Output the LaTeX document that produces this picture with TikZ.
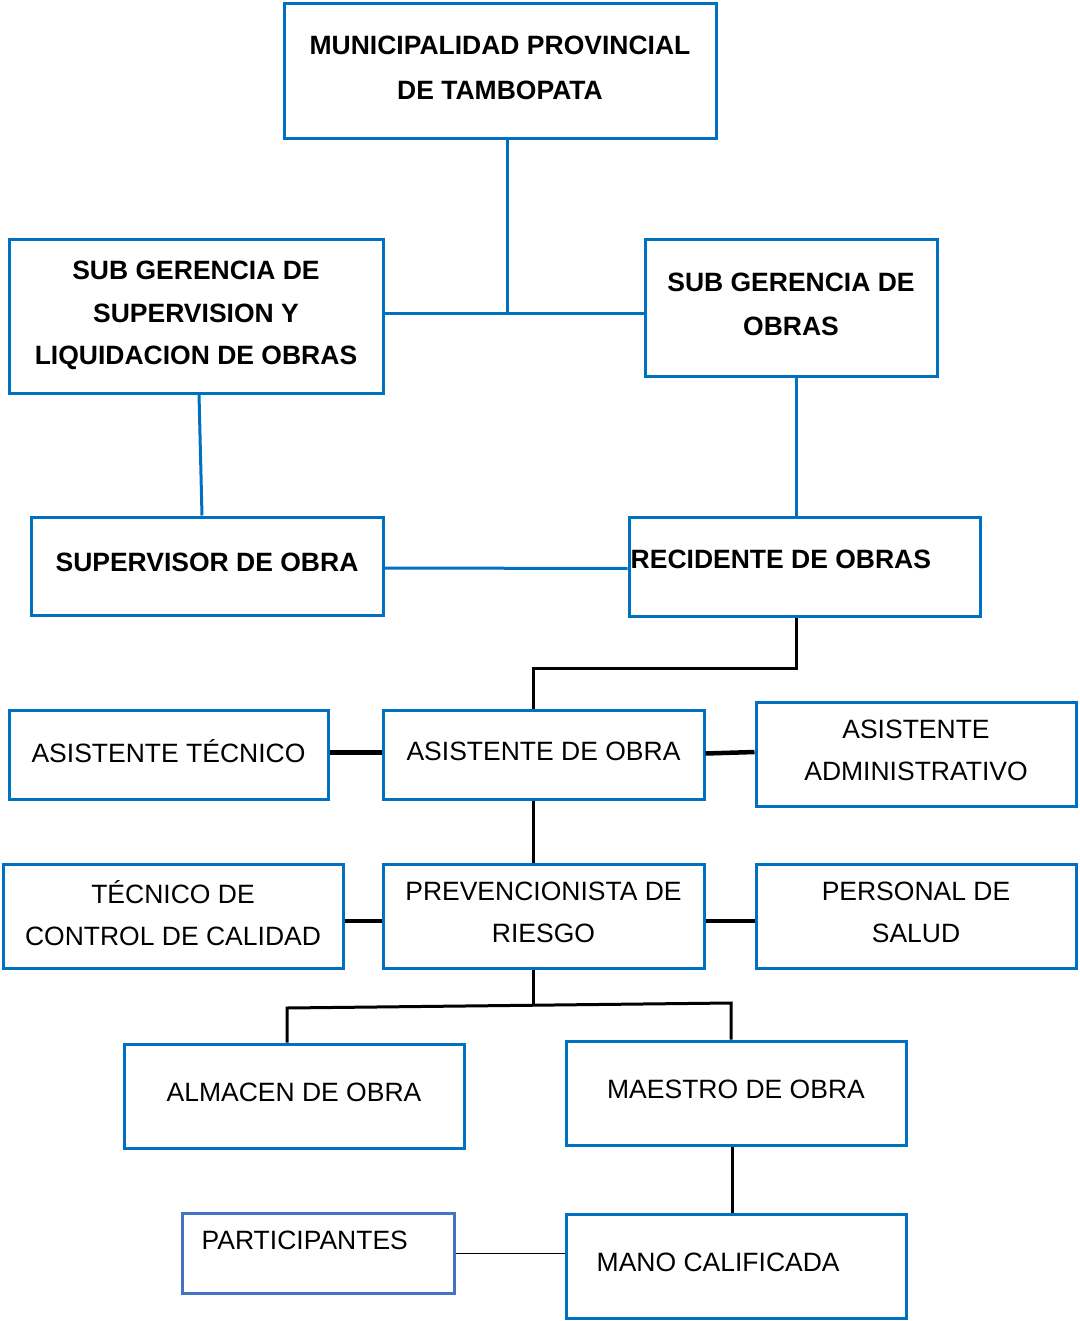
\documentclass[tikz,border=0pt]{standalone}
\usepackage{fontspec}
\setmainfont{Liberation Sans}
\definecolor{orgblue}{HTML}{0070C0}
\definecolor{partblue}{HTML}{4472C4}

\begin{document}
\begin{tikzpicture}[x=1pt, y=-1pt,
        box/.style={draw=orgblue, line width=3pt, inner sep=0pt, align=center, text depth=7pt,
            font=\fontsize{26.5}{42}\selectfont},
        bl/.style={draw=orgblue, line width=3pt},
        bk/.style={draw=black, line width=3pt},
        bkt/.style={draw=black, line width=4.5pt},
        lbl/.style={inner sep=0pt, anchor=west, font=\fontsize{26.5}{42}\selectfont}]
            \useasboundingbox (0,0) rectangle (1079,1321);
            \node[box, minimum width=432pt, minimum height=135pt, font=\fontsize{26.5}{45}\selectfont\bfseries] (muni) at (500,71) {MUNICIPALIDAD PROVINCIAL\\DE TAMBOPATA};
            \node[box, minimum width=374pt, minimum height=153pt, font=\fontsize{26.5}{42.5}\selectfont\bfseries] (sgsup) at (196,316.5) {SUB GERENCIA DE\\SUPERVISION Y\\LIQUIDACION DE OBRAS};
            \node[box, minimum width=292pt, minimum height=136pt, font=\fontsize{26.5}{44}\selectfont\bfseries] (sgobras) at (791,308) {SUB GERENCIA DE\\OBRAS};
            \node[box, minimum width=352pt, minimum height=98pt, font=\fontsize{26.5}{42}\selectfont\bfseries] (superv) at (207,566) {SUPERVISOR DE OBRA};
            \node[box, minimum width=351pt, minimum height=99pt] (rec) at (804.5,566.5) {};
            \node[lbl, font=\fontsize{26.5}{42}\selectfont\bfseries] (rectxt) at ([xshift=3pt,yshift=7.5pt]rec.west) {RECIDENTE DE OBRAS};
            \node[box, minimum width=319pt, minimum height=89pt] (asistec) at (168.5,754.5) {ASISTENTE TÉCNICO};
            \node[box, minimum width=321pt, minimum height=89pt] (asisobra) at (543.5,754.5) {ASISTENTE DE OBRA};
            \node[box, minimum width=320pt, minimum height=104pt] (asisadm) at (916,754) {ASISTENTE\\ADMINISTRATIVO};
            \node[box, minimum width=340pt, minimum height=104pt] (tecnico) at (173,916) {TÉCNICO DE\\CONTROL DE CALIDAD};
            \node[box, minimum width=321pt, minimum height=104pt] (prev) at (543.5,916) {PREVENCIONISTA DE\\RIESGO};
            \node[box, minimum width=320pt, minimum height=104pt] (pers) at (916,916) {PERSONAL DE\\SALUD};
            \node[box, minimum width=340pt, minimum height=104pt] (almacen) at (294,1096) {ALMACEN DE OBRA};
            \node[box, minimum width=340pt, minimum height=104pt] (maestro) at (736,1093) {MAESTRO DE OBRA};
            \node[box, draw=partblue, minimum width=272pt, minimum height=80pt] (part) at (318,1253) {};
            \node[lbl] (parttxt) at ([xshift=21pt,yshift=13pt]part.west) {PARTICIPANTES};
            \node[box, minimum width=340pt, minimum height=104pt] (mano) at (736,1266) {};
            \node[lbl] (manotxt) at ([xshift=32pt,yshift=4pt]mano.west) {MANO CALIFICADA};
            \coordinate (j1) at (507,313);
            \coordinate (j2) at (533,668);
            \coordinate (j3) at (533,1006);
            \coordinate (c1) at (287,1008);
            \coordinate (c2) at (731,1003);
            \draw[bl] (muni.south -| j1) -- (j1);
            \draw[bl] (sgsup.east |- j1) -- (sgobras.west |- j1);
            \draw[bl] ([xshift=3pt]sgsup.south) -- ([xshift=-5pt]superv.north);
            \draw[bl] ([xshift=5pt]sgobras.south) -- ([xshift=5pt]sgobras.south |- rec.north);
            \draw[bl] ([yshift=-2pt]superv.east) -- ([yshift=-2pt]rec.west);
            \draw[bk] ([xshift=-8.5pt]rec.south) |- (j2) -- (asisobra.north -| j2);
            \draw[bkt] ([yshift=2pt]asistec.east) -- ([yshift=2pt]asisobra.west);
            \draw[bkt] ([yshift=1pt]asisobra.east) -- ([yshift=2pt]asisadm.west);
            \draw[bk] (asisobra.south -| j2) -- (prev.north -| j2);
            \draw[bkt] ([yshift=-5pt]tecnico.east) -- ([yshift=-5pt]prev.west);
            \draw[bkt] ([yshift=-5pt]prev.east) -- ([yshift=-5pt]pers.west);
            \draw[bk] (prev.south -| j3) -- (j3);
            \draw[bk] (almacen.north -| c1) -- (c1) -- (c2) -- (maestro.north -| c2);
            \draw[bk] ([xshift=-4pt]maestro.south) -- ([xshift=-4pt]mano.north);
            \draw[black, line width=1pt] (part.east) -- (mano.west |- part.east);
        \end{tikzpicture}
\end{document}
